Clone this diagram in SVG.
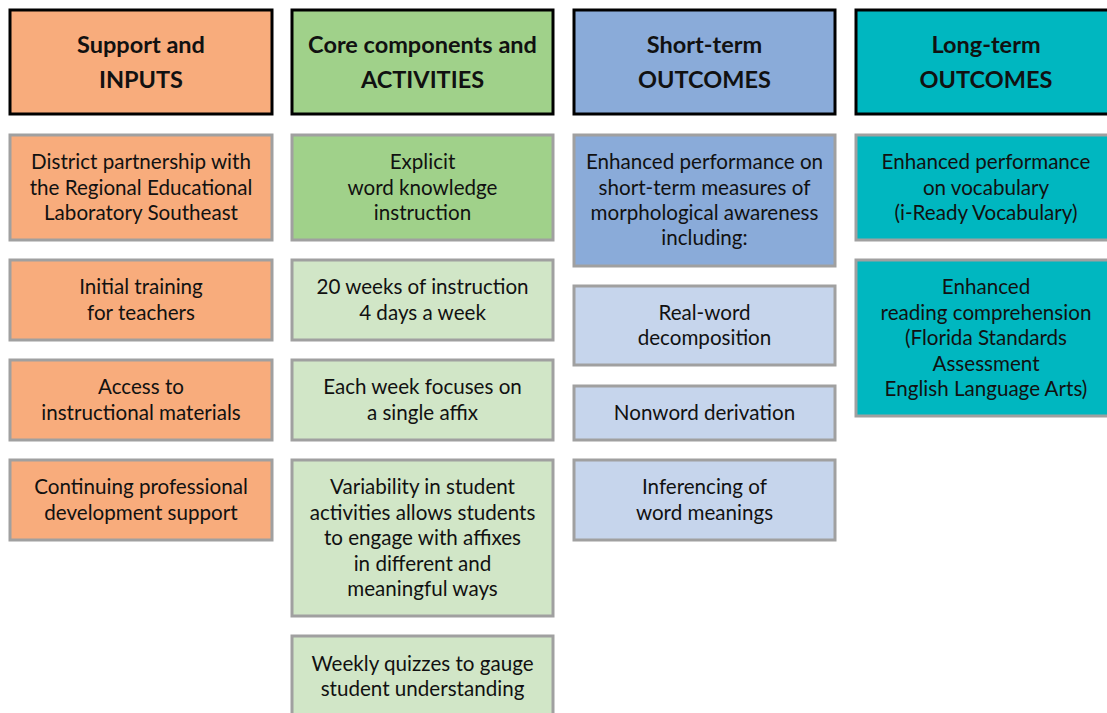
<svg xmlns="http://www.w3.org/2000/svg" width="1107" height="713" viewBox="0 0 1107 713">
<style>
.h{stroke:#000;stroke-width:3}
.b{stroke:#a0a0a0;stroke-width:3}
.or{fill:#F8AC7C}.gr{fill:#A0D18A}.lg{fill:#D1E6C7}.bl{fill:#8AABD9}.lb{fill:#C6D5EC}.te{fill:#00B7C0}
text{font-family:Lato,"Liberation Sans",sans-serif;text-anchor:middle;fill:#111}
.ht{font-size:23.5px;font-weight:bold}
.bt{font-size:20.6px}
</style>
<rect width="1107" height="713" fill="#fff"/>
<g id="connectors"/>
<g id="h1"><rect class="h or" x="10" y="10" width="262" height="104"/><text class="ht" x="141" y="53">Support and</text><text class="ht" x="141" y="88">INPUTS</text></g>
<g id="h2"><rect class="h gr" x="292" y="10" width="261" height="104"/><text class="ht" x="422.5" y="53">Core components and</text><text class="ht" x="422.5" y="88">ACTIVITIES</text></g>
<g id="h3"><rect class="h bl" x="574" y="10" width="261" height="104"/><text class="ht" x="704.5" y="53">Short-term</text><text class="ht" x="704.5" y="88">OUTCOMES</text></g>
<g id="h4"><rect class="h te" x="856" y="10" width="261" height="104"/><text class="ht" x="986" y="53">Long-term</text><text class="ht" x="986" y="88">OUTCOMES</text></g>

<g id="c1b1"><rect class="b or" x="10" y="135" width="262" height="105"/><text class="bt" x="141" y="169">District partnership with</text><text class="bt" x="141" y="194.5">the Regional Educational</text><text class="bt" x="141" y="220">Laboratory Southeast</text></g>
<g id="c1b2"><rect class="b or" x="10" y="260" width="262" height="80"/><text class="bt" x="141" y="294">Initial training</text><text class="bt" x="141" y="320">for teachers</text></g>
<g id="c1b3"><rect class="b or" x="10" y="360" width="262" height="80"/><text class="bt" x="141" y="394">Access to</text><text class="bt" x="141" y="420">instructional materials</text></g>
<g id="c1b4"><rect class="b or" x="10" y="460" width="262" height="80"/><text class="bt" x="141" y="494">Continuing professional</text><text class="bt" x="141" y="520">development support</text></g>

<g id="c2b1"><rect class="b gr" x="292" y="135" width="261" height="105"/><text class="bt" x="422.5" y="169">Explicit</text><text class="bt" x="422.5" y="194.5">word knowledge</text><text class="bt" x="422.5" y="220">instruction</text></g>
<g id="c2b2"><rect class="b lg" x="292" y="260" width="261" height="80"/><text class="bt" x="422.5" y="294">20 weeks of instruction</text><text class="bt" x="422.5" y="320">4 days a week</text></g>
<g id="c2b3"><rect class="b lg" x="292" y="360" width="261" height="80"/><text class="bt" x="422.5" y="394">Each week focuses on</text><text class="bt" x="422.5" y="420">a single affix</text></g>
<g id="c2b4"><rect class="b lg" x="292" y="460" width="261" height="156"/><text class="bt" x="422.5" y="494">Variability in student</text><text class="bt" x="422.5" y="520">activities allows students</text><text class="bt" x="422.5" y="545">to engage with affixes</text><text class="bt" x="422.5" y="571">in different and</text><text class="bt" x="422.5" y="596">meaningful ways</text></g>
<g id="c2b5"><rect class="b lg" x="292" y="636" width="261" height="90"/><text class="bt" x="422.5" y="671">Weekly quizzes to gauge</text><text class="bt" x="422.5" y="696">student understanding</text></g>

<g id="c3b1"><rect class="b bl" x="574" y="135" width="261" height="131"/><text class="bt" x="704.5" y="169">Enhanced performance on</text><text class="bt" x="704.5" y="194.5">short-term measures of</text><text class="bt" x="704.5" y="220">morphological awareness</text><text class="bt" x="704.5" y="245">including:</text></g>
<g id="c3b2"><rect class="b lb" x="574" y="286" width="261" height="79"/><text class="bt" x="704.5" y="320">Real-word</text><text class="bt" x="704.5" y="345">decomposition</text></g>
<g id="c3b3"><rect class="b lb" x="574" y="386" width="261" height="54"/><text class="bt" x="704.5" y="420">Nonword derivation</text></g>
<g id="c3b4"><rect class="b lb" x="574" y="460" width="261" height="80"/><text class="bt" x="704.5" y="494">Inferencing of</text><text class="bt" x="704.5" y="520">word meanings</text></g>

<g id="c4b1"><rect class="b te" x="856" y="135" width="261" height="105"/><text class="bt" x="986" y="169">Enhanced performance</text><text class="bt" x="986" y="194.5">on vocabulary</text><text class="bt" x="986" y="220">(i-Ready Vocabulary)</text></g>
<g id="c4b2"><rect class="b te" x="856" y="260" width="261" height="156"/><text class="bt" x="986" y="294">Enhanced</text><text class="bt" x="986" y="320">reading comprehension</text><text class="bt" x="986" y="345">(Florida Standards</text><text class="bt" x="986" y="371">Assessment</text><text class="bt" x="986" y="396">English Language Arts)</text></g>
</svg>
